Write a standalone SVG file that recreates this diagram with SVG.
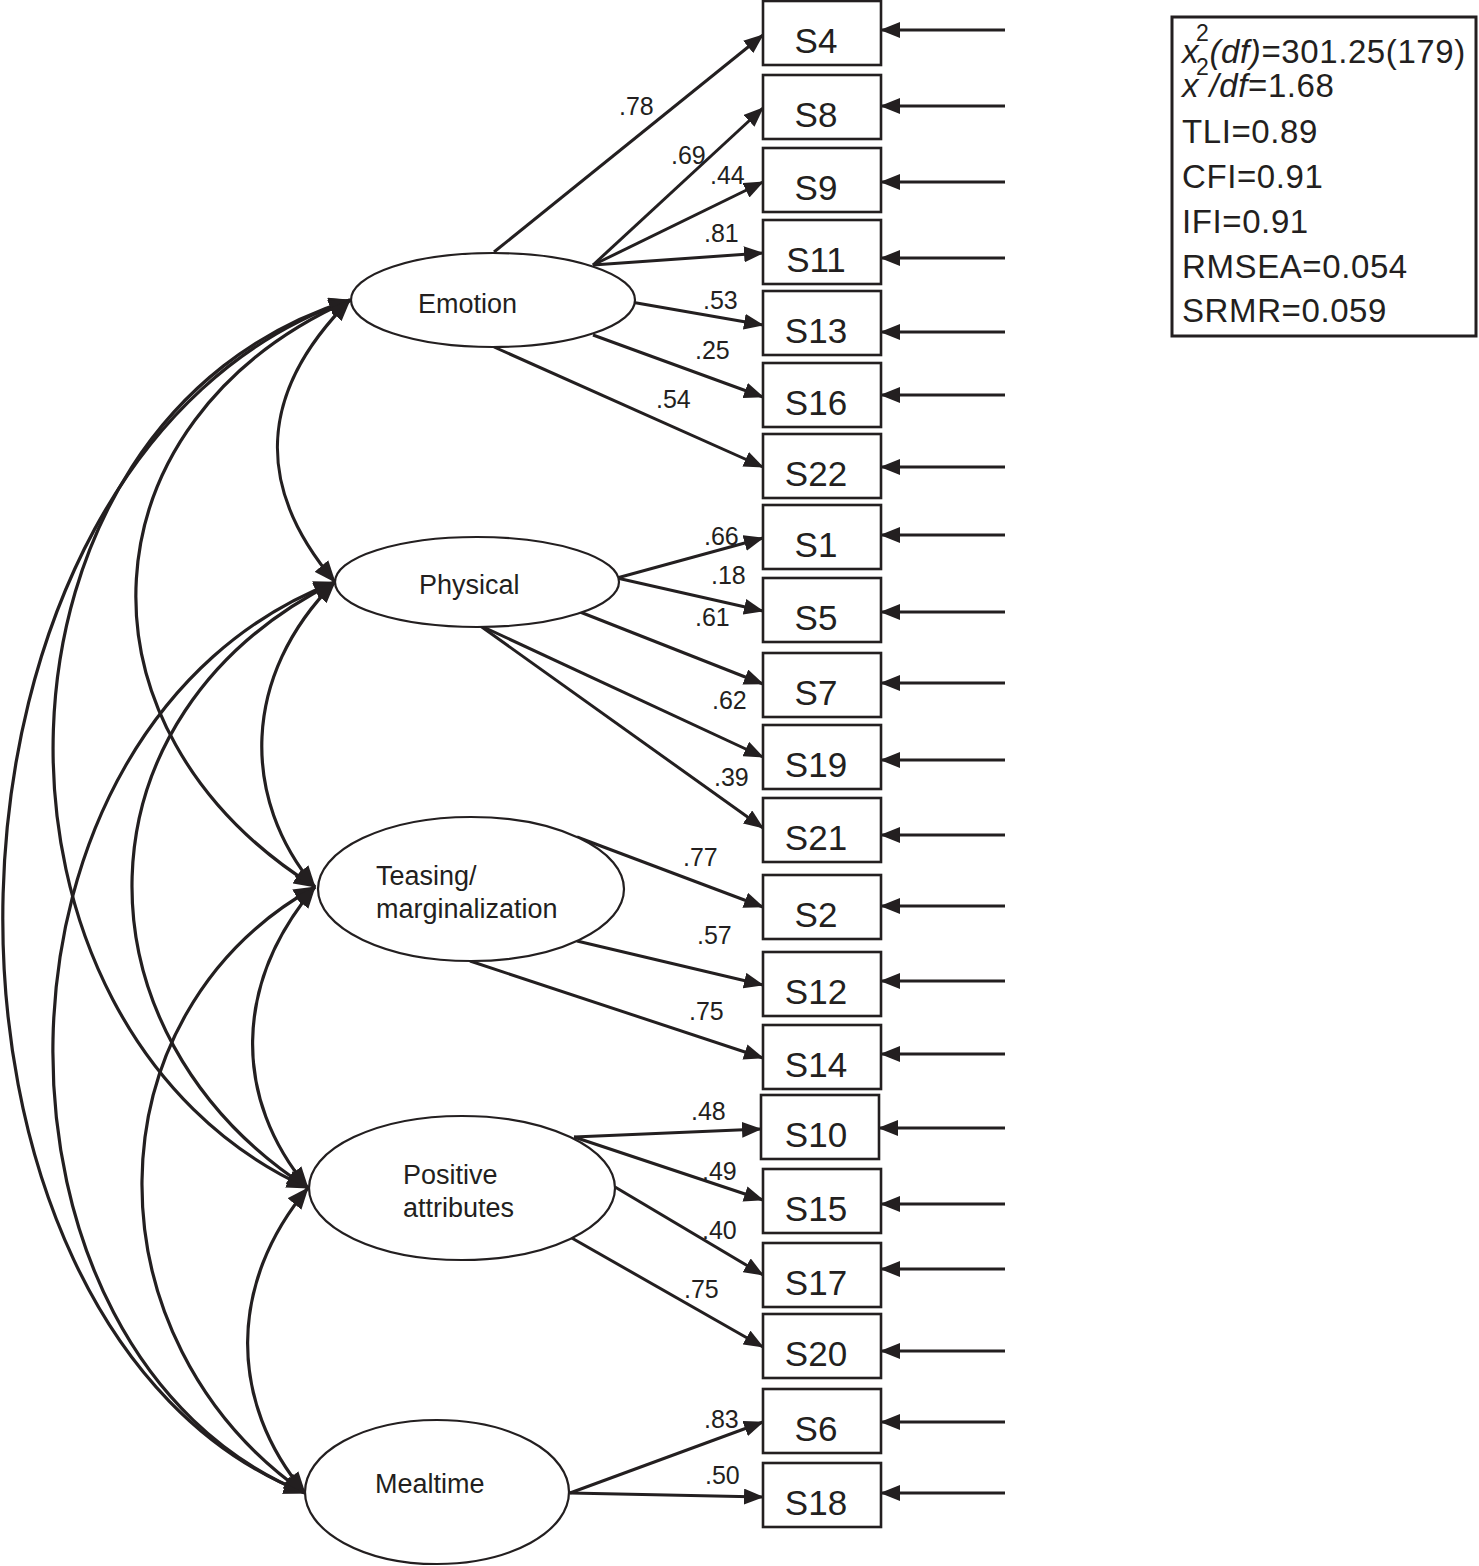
<svg xmlns="http://www.w3.org/2000/svg" width="1479" height="1566" viewBox="0 0 1479 1566">
<style>
.bg{fill:#fff}
.lat{fill:#fff;stroke:#231f20;stroke-width:2.2}
.obs{fill:#fff;stroke:#231f20;stroke-width:2.6}
.ln{fill:none;stroke:#231f20;stroke-width:3}
.cov{fill:none;stroke:#231f20;stroke-width:3.2}
.lt{font-family:"Liberation Sans",Arial,sans-serif;font-size:27px;fill:#231f20}
.ot{font-family:"Liberation Sans",Arial,sans-serif;font-size:35px;fill:#231f20;text-anchor:middle}
.wt{font-family:"Liberation Sans",Arial,sans-serif;font-size:25px;fill:#231f20}
.st{font-family:"Liberation Sans",Arial,sans-serif;font-size:33px;fill:#231f20;letter-spacing:0.6px}
</style>
<defs>
<marker id="ah" markerUnits="userSpaceOnUse" markerWidth="20" markerHeight="16" viewBox="0 0 20 16" refX="19" refY="8" orient="auto">
<path d="M0,0 L20,8 L0,16 z" fill="#231f20"/>
</marker>
<marker id="ahc" markerUnits="userSpaceOnUse" markerWidth="22" markerHeight="18" viewBox="0 0 22 18" refX="21" refY="9" orient="auto-start-reverse">
<path d="M0,0 L22,9 L0,18 z" fill="#231f20"/>
</marker>
</defs>
<rect class="bg" x="0" y="0" width="1479" height="1566"/>

<g id="connectors">
<g id="covariances" class="cov" marker-start="url(#ahc)" marker-end="url(#ahc)">
<path d="M350,300 C-100,455 -110,1330 305,1493"/>
<path d="M350,300 C-35,420 -42,1030 308,1188"/>
<path d="M350,300 C80,420 62,728 315,887"/>
<path d="M335,582 C-36,725 -36,1355 305,1493"/>
<path d="M335,582 C69,715 69,1033 308,1188"/>
<path d="M315,887 C86,1015 86,1340 305,1493"/>
<path d="M350,300 C256,394 256,489 335,582"/>
<path d="M335,582 C241,676 241,799 315,887"/>
<path d="M315,887 C233,984 233,1099 308,1188"/>
<path d="M308,1188 C228,1283 228,1402 305,1493"/>
</g>
<g id="loadings" class="ln" marker-end="url(#ah)">
<line x1="494" y1="252" x2="763" y2="35"/>
<line x1="593" y1="265" x2="763" y2="108"/>
<line x1="593" y1="265" x2="763" y2="182"/>
<line x1="593" y1="265" x2="763" y2="253"/>
<line x1="631" y1="302" x2="763" y2="325"/>
<line x1="593" y1="335" x2="763" y2="397"/>
<line x1="494" y1="347" x2="763" y2="467"/>
<line x1="617" y1="578" x2="763" y2="538"/>
<line x1="617" y1="578" x2="763" y2="611"/>
<line x1="575" y1="610" x2="763" y2="684"/>
<line x1="479" y1="625" x2="763" y2="757"/>
<line x1="479" y1="625" x2="763" y2="828"/>
<line x1="577" y1="837" x2="763" y2="907"/>
<line x1="577" y1="941" x2="763" y2="985"/>
<line x1="470" y1="961" x2="763" y2="1058"/>
<line x1="574" y1="1137" x2="761" y2="1129"/>
<line x1="574" y1="1137" x2="763" y2="1200"/>
<line x1="615" y1="1187" x2="763" y2="1275"/>
<line x1="570" y1="1237" x2="763" y2="1347"/>
<line x1="570" y1="1493" x2="763" y2="1422"/>
<line x1="570" y1="1493" x2="763" y2="1497"/>
</g>
<g id="errors" class="ln" marker-end="url(#ah)">
<line x1="1005" y1="30" x2="881" y2="30"/>
<line x1="1005" y1="106" x2="881" y2="106"/>
<line x1="1005" y1="182" x2="881" y2="182"/>
<line x1="1005" y1="258" x2="881" y2="258"/>
<line x1="1005" y1="332" x2="881" y2="332"/>
<line x1="1005" y1="395" x2="881" y2="395"/>
<line x1="1005" y1="467" x2="881" y2="467"/>
<line x1="1005" y1="535" x2="881" y2="535"/>
<line x1="1005" y1="612" x2="881" y2="612"/>
<line x1="1005" y1="683" x2="881" y2="683"/>
<line x1="1005" y1="760" x2="881" y2="760"/>
<line x1="1005" y1="835" x2="881" y2="835"/>
<line x1="1005" y1="906" x2="881" y2="906"/>
<line x1="1005" y1="981" x2="881" y2="981"/>
<line x1="1005" y1="1054" x2="881" y2="1054"/>
<line x1="1005" y1="1128" x2="879" y2="1128"/>
<line x1="1005" y1="1204" x2="881" y2="1204"/>
<line x1="1005" y1="1269" x2="881" y2="1269"/>
<line x1="1005" y1="1351" x2="881" y2="1351"/>
<line x1="1005" y1="1422" x2="881" y2="1422"/>
<line x1="1005" y1="1493" x2="881" y2="1493"/>
</g>
<g id="weights" class="wt">
<text x="619" y="115">.78</text>
<text x="671" y="164">.69</text>
<text x="710" y="184">.44</text>
<text x="704" y="242">.81</text>
<text x="703" y="309">.53</text>
<text x="695" y="359">.25</text>
<text x="656" y="408">.54</text>
<text x="704" y="545">.66</text>
<text x="711" y="584">.18</text>
<text x="695" y="626">.61</text>
<text x="712" y="709">.62</text>
<text x="714" y="786">.39</text>
<text x="683" y="866">.77</text>
<text x="697" y="944">.57</text>
<text x="689" y="1020">.75</text>
<text x="691" y="1120">.48</text>
<text x="702" y="1180">.49</text>
<text x="702" y="1239">.40</text>
<text x="684" y="1298">.75</text>
<text x="704" y="1428">.83</text>
<text x="705" y="1484">.50</text>
</g>
</g>

<g id="emotion"><ellipse class="lat" cx="493" cy="300" rx="142" ry="47"/><text class="lt" x="418" y="313">Emotion</text></g>
<g id="physical"><ellipse class="lat" cx="477" cy="582" rx="142" ry="45"/><text class="lt" x="419" y="594">Physical</text></g>
<g id="teasing"><ellipse class="lat" cx="471" cy="889" rx="153" ry="72"/><text class="lt" x="376" y="885">Teasing/</text><text class="lt" x="376" y="918">marginalization</text></g>
<g id="positive"><ellipse class="lat" cx="462" cy="1188" rx="153" ry="72"/><text class="lt" x="403" y="1184">Positive</text><text class="lt" x="403" y="1217">attributes</text></g>
<g id="mealtime"><ellipse class="lat" cx="437" cy="1492" rx="132" ry="72"/><text class="lt" x="375" y="1493">Mealtime</text></g>

<g id="S4"><rect class="obs" x="763" y="1" width="118" height="64"/><text class="ot" x="816" y="53">S4</text></g>
<g id="S8"><rect class="obs" x="763" y="75" width="118" height="64"/><text class="ot" x="816" y="127">S8</text></g>
<g id="S9"><rect class="obs" x="763" y="148" width="118" height="64"/><text class="ot" x="816" y="200">S9</text></g>
<g id="S11"><rect class="obs" x="763" y="220" width="118" height="64"/><text class="ot" x="816" y="272">S11</text></g>
<g id="S13"><rect class="obs" x="763" y="291" width="118" height="64"/><text class="ot" x="816" y="343">S13</text></g>
<g id="S16"><rect class="obs" x="763" y="363" width="118" height="64"/><text class="ot" x="816" y="415">S16</text></g>
<g id="S22"><rect class="obs" x="763" y="434" width="118" height="64"/><text class="ot" x="816" y="486">S22</text></g>
<g id="S1"><rect class="obs" x="763" y="505" width="118" height="64"/><text class="ot" x="816" y="557">S1</text></g>
<g id="S5"><rect class="obs" x="763" y="578" width="118" height="64"/><text class="ot" x="816" y="630">S5</text></g>
<g id="S7"><rect class="obs" x="763" y="653" width="118" height="64"/><text class="ot" x="816" y="705">S7</text></g>
<g id="S19"><rect class="obs" x="763" y="725" width="118" height="64"/><text class="ot" x="816" y="777">S19</text></g>
<g id="S21"><rect class="obs" x="763" y="798" width="118" height="64"/><text class="ot" x="816" y="850">S21</text></g>
<g id="S2"><rect class="obs" x="763" y="875" width="118" height="64"/><text class="ot" x="816" y="927">S2</text></g>
<g id="S12"><rect class="obs" x="763" y="952" width="118" height="64"/><text class="ot" x="816" y="1004">S12</text></g>
<g id="S14"><rect class="obs" x="763" y="1025" width="118" height="64"/><text class="ot" x="816" y="1077">S14</text></g>
<g id="S10"><rect class="obs" x="761" y="1095" width="118" height="64"/><text class="ot" x="816" y="1147">S10</text></g>
<g id="S15"><rect class="obs" x="763" y="1169" width="118" height="64"/><text class="ot" x="816" y="1221">S15</text></g>
<g id="S17"><rect class="obs" x="763" y="1243" width="118" height="64"/><text class="ot" x="816" y="1295">S17</text></g>
<g id="S20"><rect class="obs" x="763" y="1314" width="118" height="64"/><text class="ot" x="816" y="1366">S20</text></g>
<g id="S6"><rect class="obs" x="763" y="1389" width="118" height="64"/><text class="ot" x="816" y="1441">S6</text></g>
<g id="S18"><rect class="obs" x="763" y="1463" width="118" height="64"/><text class="ot" x="816" y="1515">S18</text></g>

<g id="fit-stats">
<rect x="1172" y="17" width="304" height="319" fill="#fff" stroke="#231f20" stroke-width="3"/>
<text class="st" x="1182" y="63"><tspan font-style="italic">x</tspan><tspan font-size="23" dx="-3" dy="-22">2</tspan><tspan font-style="italic" dy="22">(df)</tspan>=301.25(179)</text>
<text class="st" x="1182" y="97"><tspan font-style="italic">x</tspan><tspan font-size="23" dx="-3" dy="-22">2</tspan><tspan font-style="italic" dy="22">/df</tspan>=1.68</text>
<text class="st" x="1182" y="143">TLI=0.89</text>
<text class="st" x="1182" y="188">CFI=0.91</text>
<text class="st" x="1182" y="233">IFI=0.91</text>
<text class="st" x="1182" y="278">RMSEA=0.054</text>
<text class="st" x="1182" y="322">SRMR=0.059</text>
</g>
</svg>
